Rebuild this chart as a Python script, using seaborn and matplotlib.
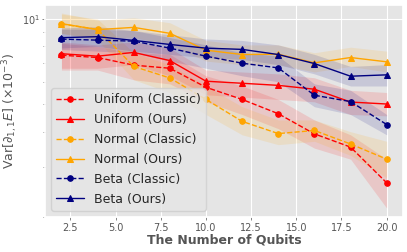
import matplotlib
matplotlib.use("Agg")
import matplotlib.pyplot as plt
import seaborn as sns
import numpy as np

# values (y is Var x 1e-3, log scale)
qubits = [2, 4, 6, 8, 10, 12, 14, 16, 18, 20]

uniform_classic = [7.45, 7.31, 6.87, 6.70, 5.74, 5.20, 4.63, 3.93, 3.53, 2.64]
uniform_classic_lo = [6.6, 6.6, 6.1, 5.9, 5.1, 4.6, 4.1, 3.5, 3.2, 2.15]
uniform_classic_hi = [8.2, 8.0, 7.6, 7.5, 6.3, 5.8, 5.2, 4.4, 3.9, 3.2]

uniform_ours = [7.54, 7.39, 7.62, 7.13, 6.03, 5.93, 5.83, 5.65, 5.09, 5.01]
uniform_ours_lo = [6.7, 6.7, 6.9, 6.3, 5.4, 5.3, 5.2, 5.1, 4.6, 4.55]
uniform_ours_hi = [8.3, 8.1, 8.3, 7.9, 6.6, 6.5, 6.4, 6.2, 5.6, 5.5]

normal_classic = [9.60, 9.19, 6.80, 6.19, 5.20, 4.35, 3.94, 4.04, 3.62, 3.20]
normal_classic_lo = [8.9, 8.4, 6.1, 5.5, 4.6, 3.9, 3.6, 3.7, 3.3, 2.75]
normal_classic_hi = [10.4, 10.0, 7.6, 6.9, 5.8, 4.9, 4.4, 4.4, 4.0, 3.7]

normal_ours = [9.63, 9.17, 9.34, 8.90, 7.76, 7.49, 7.51, 7.00, 7.31, 7.06]
normal_ours_lo = [8.9, 8.5, 8.6, 8.1, 7.1, 6.9, 6.9, 6.5, 6.8, 6.5]
normal_ours_hi = [10.5, 9.9, 10.1, 9.7, 8.4, 8.1, 8.1, 7.6, 7.95, 7.7]

beta_classic = [8.49, 8.42, 8.35, 7.89, 7.39, 6.98, 6.72, 5.38, 5.11, 4.24]
beta_classic_lo = [7.8, 7.7, 7.6, 7.1, 6.7, 6.3, 6.0, 4.9, 4.6, 3.9]
beta_classic_hi = [9.2, 9.2, 9.1, 8.6, 8.1, 7.6, 7.4, 5.9, 5.6, 4.6]

beta_ours = [8.59, 8.66, 8.40, 8.13, 7.89, 7.81, 7.49, 6.96, 6.28, 6.35]
beta_ours_lo = [7.9, 8.0, 7.7, 7.5, 7.3, 7.2, 6.9, 6.4, 5.8, 5.8]
beta_ours_hi = [9.3, 9.4, 9.1, 8.8, 8.5, 8.4, 8.1, 7.5, 6.8, 6.9]

series = [
    ("Uniform (Classic)", uniform_classic, uniform_classic_lo, uniform_classic_hi, "red", "o", "--"),
    ("Uniform (Ours)", uniform_ours, uniform_ours_lo, uniform_ours_hi, "red", "^", "-"),
    ("Normal (Classic)", normal_classic, normal_classic_lo, normal_classic_hi, "orange", "o", "--"),
    ("Normal (Ours)", normal_ours, normal_ours_lo, normal_ours_hi, "orange", "^", "-"),
    ("Beta (Classic)", beta_classic, beta_classic_lo, beta_classic_hi, "navy", "o", "--"),
    ("Beta (Ours)", beta_ours, beta_ours_lo, beta_ours_hi, "navy", "^", "-"),
]

sns.set_theme(style="darkgrid", rc={
    "axes.facecolor": "#E5E5E5",
    "grid.color": "white",
    "xtick.bottom": True,
    "ytick.left": True,
    "xtick.color": "#555555",
    "ytick.color": "#555555",
    "axes.labelcolor": "#555555",
})
plt.rcParams["font.family"] = ["DejaVu Sans"]

fig = plt.figure(figsize=(4.07, 2.52), dpi=100)
ax = fig.add_axes([0.111, 0.139, 0.879, 0.841])

for label, mean, lo, hi, color, marker, ls in series:
    ax.fill_between(qubits, lo, hi, color=color, alpha=0.13, linewidth=0)
    sns.lineplot(x=qubits, y=mean, ax=ax, color=color, marker=marker,
                 linestyle=ls, linewidth=1.0, markersize=4,
                 markeredgecolor=color, label=label)

ax.set_yscale("log")
ax.set_ylim(2.0, 11.2)
ax.set_xlim(1.1, 20.9)
ax.grid(True, which="major", color="white", linewidth=0.8)
ax.grid(False, which="minor")
ax.tick_params(axis="both", which="major", labelsize=7, length=2, width=0.5, pad=2)
ax.tick_params(axis="y", which="minor", length=1.5, width=0.5, color="#555555")
ax.yaxis.set_minor_formatter(matplotlib.ticker.NullFormatter())

ax.set_xlabel("The Number of Qubits", fontsize=9, fontweight="bold", labelpad=1)
ax.set_ylabel(r"Var[$\partial_{1,1}E$] ($\times 10^{-3}$)", fontsize=9)
ax.yaxis.set_label_coords(-0.07, 0.5)

leg = ax.legend(loc="lower left", fontsize=9, frameon=True,
                facecolor="#E5E5E5", edgecolor="#CCCCCC",
                handlelength=2.2, labelspacing=0.55, borderaxespad=0.5)

fig.savefig("out.png", dpi=100)
